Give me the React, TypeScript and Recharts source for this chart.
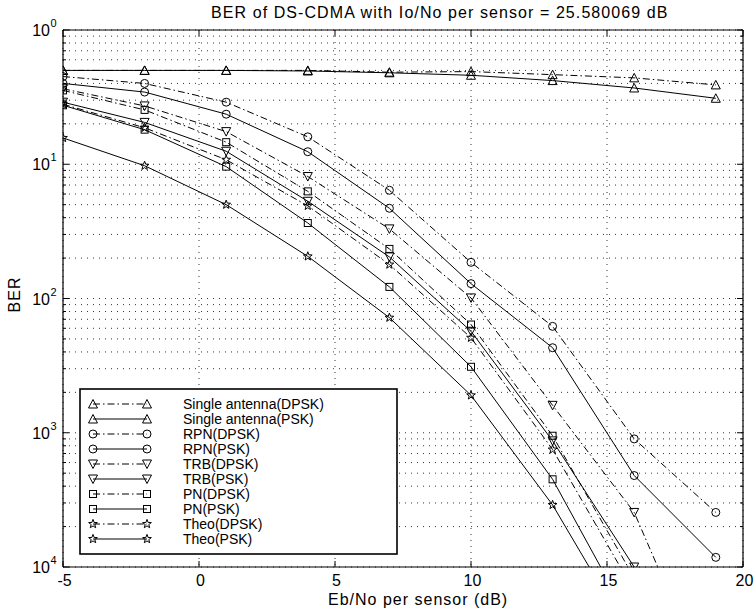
import { CartesianGrid, Line, LineChart, XAxis, YAxis } from "recharts";

// Eb/No per sensor (dB) sample points
const ebNo = [-5, -2, 1, 4, 7, 10, 13, 16, 19];

const singleDpsk = [0.5, 0.5, 0.5, 0.5, 0.485, 0.49, 0.465, 0.44, 0.39];
const singlePsk = [0.5, 0.5, 0.5, 0.495, 0.48, 0.46, 0.42, 0.37, 0.31];
const rpnDpsk = [0.45, 0.4, 0.29, 0.16, 0.064, 0.0186, 0.0062, 0.0009, 0.000255];
const rpnPsk = [0.4, 0.345, 0.236, 0.124, 0.047, 0.0129, 0.0043, 0.00048, 0.000118];
const trbDpsk = [0.365, 0.272, 0.175, 0.081, 0.033, 0.0101, 0.0016, 0.000255, 0.00001];
const trbPsk = [0.29, 0.205, 0.125, 0.053, 0.0204, 0.0057, 0.00087, 0.0001, null];
const pnDpsk = [0.355, 0.254, 0.146, 0.0628, 0.0234, 0.0064, 0.00095, 0.000083, null];
const pnPsk = [0.275, 0.181, 0.096, 0.0365, 0.0122, 0.0031, 0.00045, 0.000035, null];
const theoDpsk = [0.28, 0.187, 0.108, 0.049, 0.0179, 0.0051, 0.00075, 0.000066, null];
const theoPsk = [0.157, 0.0975, 0.05, 0.0206, 0.0072, 0.0019, 0.00029, 0.000027, null];

const xTicks = [-5, 0, 5, 10, 15, 20];
const yDecades = [1e-4, 1e-3, 1e-2, 1e-1, 1];
const yExponents = ["4", "3", "2", "1", "0"]; // printed without the minus sign

const title = "BER of DS-CDMA with Io/No per sensor = 25.580069 dB";
const xLabel = "Eb/No per sensor (dB)";
const yLabel = "BER";

type Shape = "tri" | "circle" | "tridown" | "square" | "star";

const series: { key: string; name: string; values: (number | null)[]; shape: Shape; dpsk: boolean }[] = [
  { key: "singleDpsk", name: "Single antenna(DPSK)", values: singleDpsk, shape: "tri", dpsk: true },
  { key: "singlePsk", name: "Single antenna(PSK)", values: singlePsk, shape: "tri", dpsk: false },
  { key: "rpnDpsk", name: "RPN(DPSK)", values: rpnDpsk, shape: "circle", dpsk: true },
  { key: "rpnPsk", name: "RPN(PSK)", values: rpnPsk, shape: "circle", dpsk: false },
  { key: "trbDpsk", name: "TRB(DPSK)", values: trbDpsk, shape: "tridown", dpsk: true },
  { key: "trbPsk", name: "TRB(PSK)", values: trbPsk, shape: "tridown", dpsk: false },
  { key: "pnDpsk", name: "PN(DPSK)", values: pnDpsk, shape: "square", dpsk: true },
  { key: "pnPsk", name: "PN(PSK)", values: pnPsk, shape: "square", dpsk: false },
  { key: "theoDpsk", name: "Theo(DPSK)", values: theoDpsk, shape: "star", dpsk: true },
  { key: "theoPsk", name: "Theo(PSK)", values: theoPsk, shape: "star", dpsk: false },
];

const data = ebNo.map((x, i) => {
  const row: Record<string, number | null> = { x };
  for (const s of series) row[s.key] = s.values[i];
  return row;
});

// minor + major ticks for the log axis
const yTicks: number[] = [];
yDecades.forEach((d, i) => {
  if (i === yDecades.length - 1) {
    yTicks.push(d);
    return;
  }
  for (let m = 1; m <= 9; m++) yTicks.push(m * d);
});

const W = 756;
const H = 615;
const PL = 63;
const PR = 743;
const PT = 30;
const PB = 567;
const FONT = "'Liberation Sans', Arial, Helvetica, sans-serif";
const DASHDOT = "7 3 1.5 3";

function Marker({ shape, cx, cy }: { shape: Shape; cx: number; cy: number }) {
  const common = { fill: "none", stroke: "#000", strokeWidth: 1 };
  if (shape === "circle") return <circle cx={cx} cy={cy} r={4} {...common} />;
  if (shape === "square") return <rect x={cx - 3.5} y={cy - 3.5} width={7} height={7} {...common} />;
  if (shape === "tri")
    return <polygon points={`${cx},${cy - 4.5} ${cx - 4.5},${cy + 4} ${cx + 4.5},${cy + 4}`} {...common} />;
  if (shape === "tridown")
    return <polygon points={`${cx},${cy + 4.5} ${cx - 4.5},${cy - 4} ${cx + 4.5},${cy - 4}`} {...common} />;
  const pts: string[] = [];
  for (let k = 0; k < 10; k++) {
    const r = k % 2 === 0 ? 4.6 : 1.9;
    const a = -Math.PI / 2 + (k * Math.PI) / 5;
    pts.push(`${cx + r * Math.cos(a)},${cy + r * Math.sin(a)}`);
  }
  return <polygon points={pts.join(" ")} {...common} />;
}

const isDecade = (v: number) => {
  const lg = Math.log10(v);
  return Math.abs(lg - Math.round(lg)) < 1e-6;
};

function LeftTick(props: any) {
  const { y, payload } = props;
  const v = payload.value as number;
  const major = isDecade(v);
  const idx = yDecades.findIndex((d) => Math.abs(Math.log10(d) - Math.log10(v)) < 1e-6);
  return (
    <g>
      <line x1={PL} x2={PL + (major ? 6 : 3)} y1={y} y2={y} stroke="#000" strokeWidth={1} />
      {major && (
        <text fontFamily={FONT} fill="#000">
          <tspan x={50} y={y + 6} textAnchor="end" fontSize={16}>
            10
          </tspan>
          <tspan x={50.5} y={y - 3} fontSize={11}>
            {yExponents[idx]}
          </tspan>
        </text>
      )}
    </g>
  );
}

function RightTick(props: any) {
  const { y, payload } = props;
  const major = isDecade(payload.value);
  return <line x1={PR} x2={PR - (major ? 6 : 3)} y1={y} y2={y} stroke="#000" strokeWidth={1} />;
}

function BottomTick(props: any) {
  const { x, payload } = props;
  return (
    <g>
      <line x1={x} x2={x} y1={PB} y2={PB - 6} stroke="#000" strokeWidth={1} />
      <text x={x + 1.5} y={PB + 19} textAnchor="middle" fontSize={16} fontFamily={FONT} fill="#000">
        {payload.value}
      </text>
    </g>
  );
}

function TopTick(props: any) {
  const { x } = props;
  return <line x1={x} x2={x} y1={PT} y2={PT + 6} stroke="#000" strokeWidth={1} />;
}

function Legend() {
  const x0 = 80;
  const y0 = 389;
  const rowY = (i: number) => 404 + i * 15;
  return (
    <g>
      <rect x={x0} y={y0} width={317} height={165} fill="#fff" stroke="#000" strokeWidth={1.6} />
      {series.map((s, i) => (
        <g key={s.key}>
          <line
            x1={93}
            x2={147}
            y1={rowY(i)}
            y2={rowY(i)}
            stroke="#000"
            strokeWidth={1}
            strokeDasharray={s.dpsk ? DASHDOT : undefined}
          />
          <Marker shape={s.shape} cx={93} cy={rowY(i)} />
          <Marker shape={s.shape} cx={147} cy={rowY(i)} />
          <text x={183} y={rowY(i) + 5} fontSize={14} fontFamily={FONT} fill="#000">
            {s.name}
          </text>
        </g>
      ))}
    </g>
  );
}

export default function App() {
  return (
    <div style={{ position: "absolute", left: 0, top: 0, width: W, height: H, background: "#fff" }}>
      <LineChart width={W} height={H} data={data} margin={{ top: 0, right: 0, bottom: 0, left: 0 }}>
        <XAxis
          xAxisId="b"
          dataKey="x"
          type="number"
          domain={[-5, 20]}
          ticks={xTicks}
          interval={0}
          height={H - PB}
          allowDataOverflow
          axisLine={{ stroke: "#000", strokeWidth: 1.2 }}
          tickLine={false}
          tick={<BottomTick />}
        />
        <XAxis
          xAxisId="t"
          orientation="top"
          dataKey="x"
          type="number"
          domain={[-5, 20]}
          ticks={xTicks}
          interval={0}
          height={PT}
          allowDataOverflow
          axisLine={{ stroke: "#000", strokeWidth: 1.2 }}
          tickLine={false}
          tick={<TopTick />}
        />
        <YAxis
          yAxisId="l"
          type="number"
          scale="log"
          domain={[1e-4, 1]}
          ticks={yTicks}
          interval={0}
          width={PL}
          allowDataOverflow
          axisLine={{ stroke: "#000", strokeWidth: 1.2 }}
          tickLine={false}
          tick={<LeftTick />}
        />
        <YAxis
          yAxisId="r"
          orientation="right"
          type="number"
          scale="log"
          domain={[1e-4, 1]}
          ticks={yTicks}
          interval={0}
          width={W - PR}
          allowDataOverflow
          axisLine={{ stroke: "#000", strokeWidth: 1.2 }}
          tickLine={false}
          tick={<RightTick />}
        />
        <CartesianGrid xAxisId="b" yAxisId="l" stroke="#000" strokeWidth={0.8} strokeDasharray="1 5" />
        {series.map((s) => (
          <Line
            key={s.key}
            xAxisId="b"
            yAxisId="l"
            dataKey={s.key}
            name={s.name}
            stroke="#000"
            strokeWidth={1}
            strokeDasharray={s.dpsk ? DASHDOT : undefined}
            isAnimationActive={false}
            dot={(p: any) =>
              p.cx == null || p.cy == null || p.value == null ? (
                <g key={p.key} />
              ) : (
                <g key={p.key}>
                  <Marker shape={s.shape} cx={p.cx} cy={p.cy} />
                </g>
              )
            }
            activeDot={false}
          />
        ))}
      </LineChart>
      <svg
        width={W}
        height={H}
        style={{ position: "absolute", left: 0, top: 0, pointerEvents: "none" }}
      >
        <text x={211} y={18} fontSize={16} letterSpacing={1.08} fontFamily={FONT} fill="#000">
          {title}
        </text>
        <text x={328} y={605} fontSize={16} letterSpacing={1} fontFamily={FONT} fill="#000">
          {xLabel}
        </text>
        <text
          x={0}
          y={0}
          transform={`translate(20 ${(PT + PB) / 2 - 4}) rotate(-90)`}
          textAnchor="middle"
          fontSize={16}
          letterSpacing={1}
          fontFamily={FONT}
          fill="#000"
        >
          {yLabel}
        </text>
        <Legend />
      </svg>
    </div>
  );
}
